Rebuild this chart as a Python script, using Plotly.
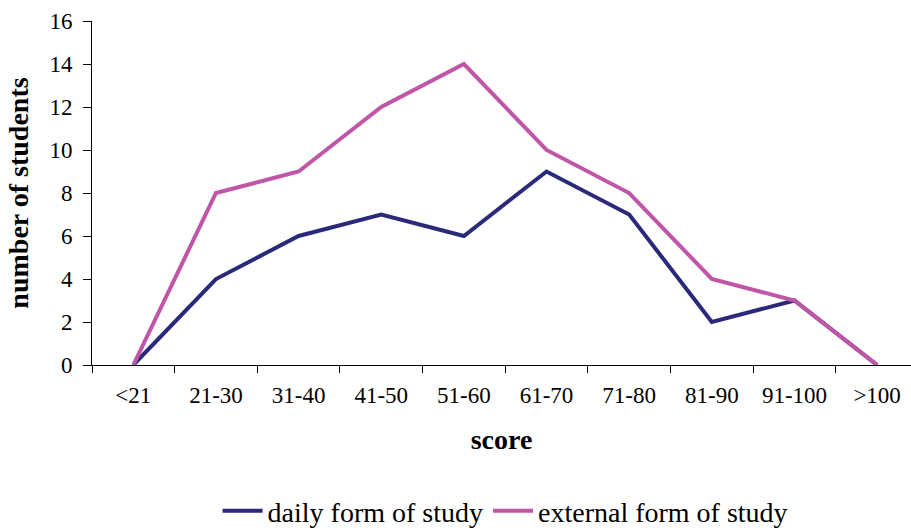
import plotly.graph_objects as go

# Score bands and number of students per band
score_bands = ["<21", "21-30", "31-40", "41-50", "51-60", "61-70", "71-80", "81-90", "91-100", ">100"]
daily_students = [0, 4, 6, 7, 6, 9, 7, 2, 3, 0]
external_students = [0, 8, 9, 12, 14, 10, 8, 4, 3, 0]
y_ticks = [0, 2, 4, 6, 8, 10, 12, 14, 16]

serif = "Liberation Serif, Times New Roman, serif"

fig = go.Figure()
fig.add_trace(go.Scatter(
    x=score_bands, y=daily_students, mode="lines",
    name="daily form of study",
    line=dict(color="#2B2A7A", width=4),
    cliponaxis=False,
))
fig.add_trace(go.Scatter(
    x=score_bands, y=external_students, mode="lines",
    name="external form of study",
    line=dict(color="#BF56A8", width=4),
    cliponaxis=False,
))

fig.update_layout(
    width=911, height=528,
    margin=dict(l=92, r=0, t=21, b=163, autoexpand=False),
    paper_bgcolor="white", plot_bgcolor="white",
    font=dict(family=serif, color="black", size=23),
    showlegend=True,
    legend=dict(
        orientation="h", x=0.505, xanchor="center",
        yref="container", y=0.032, yanchor="middle",
        font=dict(size=28, family=serif), traceorder="normal",
        itemwidth=40,
    ),
    xaxis=dict(
        type="category", categoryorder="array", categoryarray=score_bands,
        range=[-0.5, 9.41],
        showline=True, linecolor="black", linewidth=1,
        ticks="outside", tickson="boundaries", ticklen=7, tickcolor="black",
        showgrid=False, zeroline=False,
        tickfont=dict(size=23, family=serif), ticklabelstandoff=9,
        title=dict(text="<b>score</b>", font=dict(size=28, family=serif), standoff=22),
    ),
    yaxis=dict(
        range=[0, 16], tickvals=y_ticks,
        showline=True, linecolor="black", linewidth=1,
        ticks="outside", ticklen=8, tickcolor="black",
        showgrid=False, zeroline=False,
        tickfont=dict(size=23, family=serif), ticklabelstandoff=6,
        title=dict(text="<b>number of students</b>", font=dict(size=28, family=serif), standoff=12),
    ),
)

fig.write_html("out.html")
